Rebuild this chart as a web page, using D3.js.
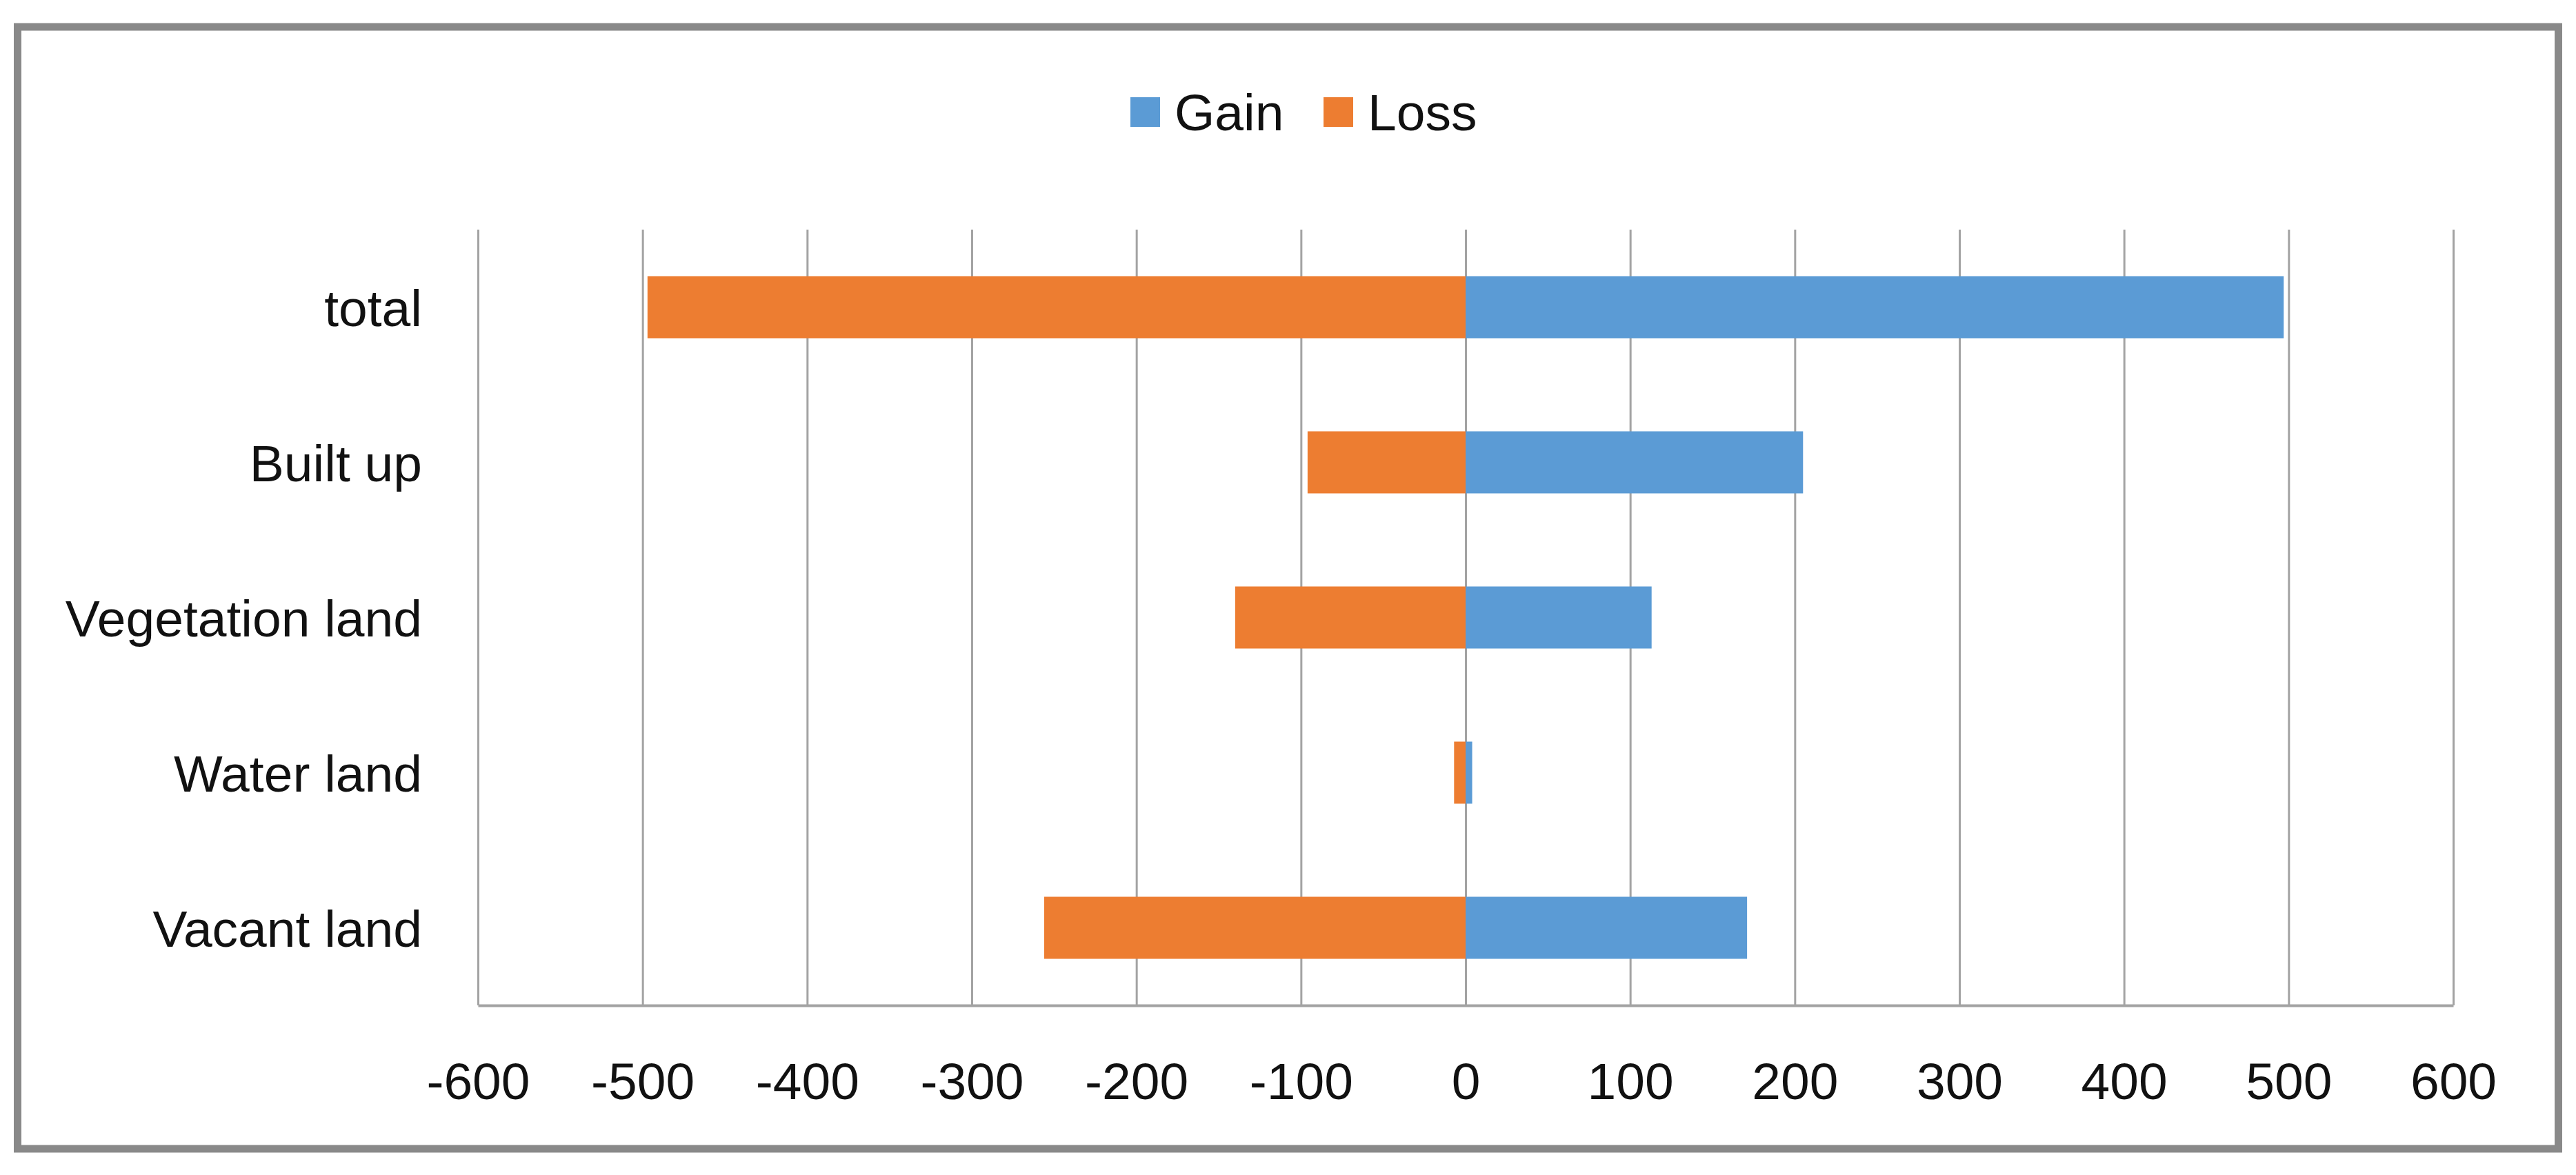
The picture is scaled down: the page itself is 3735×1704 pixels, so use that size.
<!DOCTYPE html>
<html>
<head>
<meta charset="utf-8">
<style>
  body { margin: 0; background: #fff; }
  text { font-family: "Liberation Sans", Arial, sans-serif; fill: #111; }
</style>
</head>
<body>
<div class="start"></div>
<script src="https://cdn.jsdelivr.net/npm/d3@7"></script>
<script>
var categories = ['total', 'Built up', 'Vegetation land', 'Water land', 'Vacant land'];
var gain = [497, 205, 113, 4, 171];
var loss = [-497, -96, -140, -7, -256];
var ticks = [-600, -500, -400, -300, -200, -100, 0, 100, 200, 300, 400, 500, 600];
var series = ['Gain', 'Loss'];
var colors = ['#5b9bd5', '#ed7d31'];

var W = 3735, H = 1704;
var plotLeft = 693, plotRight = 3557, plotTop = 333, plotBottom = 1458;

var svg = d3.select('.start')
  .append('svg')
  .attr('width', W)
  .attr('height', H);

// outer frame
svg.append('rect')
  .attr('x', 25.5).attr('y', 39)
  .attr('width', 3684).attr('height', 1627)
  .attr('fill', '#fff')
  .attr('stroke', '#898989')
  .attr('stroke-width', 11);

var x = d3.scaleLinear().domain([-600, 600]).range([plotLeft, plotRight]);
var y = d3.scaleBand().domain(categories).range([plotTop, plotBottom]).paddingInner(0.6).paddingOuter(0.3);

// vertical gridlines
svg.append('g')
  .attr('transform', 'translate(0,' + plotBottom + ')')
  .call(d3.axisBottom(x).tickValues(ticks).tickSize(-(plotBottom - plotTop)).tickFormat(''))
  .call(function(g) {
    g.select('.domain').remove();
    g.selectAll('.tick line').attr('stroke', '#a3a3a3').attr('stroke-width', 3);
  });

// bars
var rows = categories.map(function(c, i) { return { cat: c, gain: gain[i], loss: loss[i] }; });

svg.selectAll('.loss')
  .data(rows).enter()
  .append('rect')
  .attr('class', 'loss')
  .attr('x', function(d) { return x(d.loss); })
  .attr('y', function(d) { return y(d.cat); })
  .attr('width', function(d) { return x(0) - x(d.loss); })
  .attr('height', y.bandwidth())
  .attr('fill', colors[1]);

svg.selectAll('.gain')
  .data(rows).enter()
  .append('rect')
  .attr('class', 'gain')
  .attr('x', x(0))
  .attr('y', function(d) { return y(d.cat); })
  .attr('width', function(d) { return x(d.gain) - x(0); })
  .attr('height', y.bandwidth())
  .attr('fill', colors[0]);

// bottom axis with labels
svg.append('g')
  .attr('transform', 'translate(0,' + plotBottom + ')')
  .call(d3.axisBottom(x).tickValues(ticks).tickSize(0).tickFormat(function(d) { return String(d); }))
  .call(function(g) {
    g.select('.domain').attr('stroke', '#a3a3a3').attr('stroke-width', 4);
    g.selectAll('.tick text')
      .attr('y', 136).attr('dy', 0)
      .style('font-family', '"Liberation Sans", Arial, sans-serif')
      .style('font-size', '75px')
      .attr('fill', '#111');
  });

// category labels
svg.append('g')
  .attr('transform', 'translate(' + plotLeft + ',0)')
  .call(d3.axisLeft(y).tickSize(0).tickPadding(81))
  .call(function(g) {
    g.select('.domain').remove();
    g.selectAll('.tick text')
      .attr('dy', '0.36em')
      .style('font-family', '"Liberation Sans", Arial, sans-serif')
      .style('font-size', '75px')
      .attr('fill', '#111');
  });

// legend
var legendX = [1639, 1919];
var lg = svg.selectAll('.legend')
  .data(series).enter()
  .append('g')
  .attr('class', 'legend')
  .attr('transform', function(d, i) { return 'translate(' + legendX[i] + ',141)'; });

lg.append('rect')
  .attr('width', 43).attr('height', 43)
  .attr('fill', function(d, i) { return colors[i]; });

lg.append('text')
  .attr('x', 64).attr('y', 48)
  .style('font-size', '75px')
  .text(function(d) { return d; });
</script>
</body>
</html>
